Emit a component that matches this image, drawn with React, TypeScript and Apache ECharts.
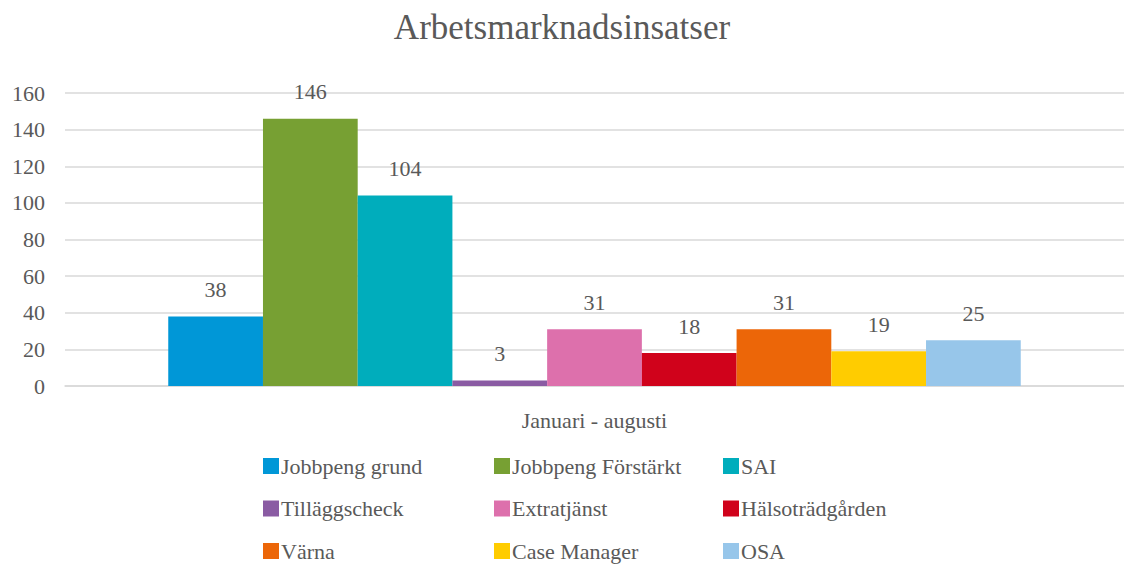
import React, { useEffect, useRef } from "react";
import * as echarts from "echarts";

const categories = ["Januari - augusti"];
const seriesNames = [
  "Jobbpeng grund",
  "Jobbpeng Förstärkt",
  "SAI",
  "Tilläggscheck",
  "Extratjänst",
  "Hälsoträdgården",
  "Värna",
  "Case Manager",
  "OSA",
];
const seriesValues = [38, 146, 104, 3, 31, 18, 31, 19, 25];
const seriesColors = [
  "#0097D7",
  "#77A033",
  "#00ADBC",
  "#8A5BA3",
  "#DD70AC",
  "#D0021B",
  "#EC6608",
  "#FFCC00",
  "#97C6EA",
];
const yTicks = { min: 0, max: 160, interval: 20 };

const FONT = "'Liberation Serif', 'DejaVu Serif', serif";
const GREY = "#595959";

export default function App() {
  const ref = useRef<HTMLDivElement>(null);
  useEffect(() => {
    document.body.style.margin = "0";
    const chart = echarts.init(ref.current!, undefined, { renderer: "svg" });
    const legendCols = [
      { left: 258, names: [seriesNames[0], seriesNames[3], seriesNames[6]] },
      { left: 489, names: [seriesNames[1], seriesNames[4], seriesNames[7]] },
      { left: 718, names: [seriesNames[2], seriesNames[5], seriesNames[8]] },
    ];
    chart.setOption({
      animation: false,
      textStyle: { fontFamily: FONT },
      title: {
        text: "Arbetsmarknadsinsatser",
        left: "center",
        top: 5,
        textStyle: { fontFamily: FONT, fontSize: 35, fontWeight: "normal", color: GREY },
      },
      legend: legendCols.map((c) => ({
        orient: "vertical",
        left: c.left,
        top: 450,
        height: 140,
        itemWidth: 16,
        itemHeight: 16,
        itemGap: 20.5,
        icon: "rect",
        data: c.names,
        textStyle: { fontFamily: FONT, fontSize: 22, color: GREY, padding: [0, 0, 0, -3] },
      })),
      grid: { left: 65, right: -6, top: 93, bottom: 565 - 386, containLabel: false },
      xAxis: {
        type: "category",
        data: categories,
        axisTick: { show: false },
        axisLine: { lineStyle: { color: "#D9D9D9", width: 1.5 } },
        axisLabel: { fontFamily: FONT, fontSize: 22, color: GREY, margin: 23 },
      },
      yAxis: {
        type: "value",
        min: yTicks.min,
        max: yTicks.max,
        interval: yTicks.interval,
        axisLine: { show: false },
        axisTick: { show: false },
        splitLine: { lineStyle: { color: "#D9D9D9", width: 1.5 } },
        axisLabel: { fontFamily: FONT, fontSize: 22, color: GREY, margin: 20 },
      },
      series: seriesNames.map((name, i) => ({
        name,
        type: "bar",
        data: [seriesValues[i]],
        itemStyle: { color: seriesColors[i] },
        barGap: "0%",
        barCategoryGap: "19.5%",
        label: {
          show: true,
          position: "top",
          distance: 16,
          fontFamily: FONT,
          fontSize: 22,
          color: GREY,
        },
      })),
    });
    return () => chart.dispose();
  }, []);
  return <div ref={ref} style={{ width: 1124, height: 565 }} />;
}
